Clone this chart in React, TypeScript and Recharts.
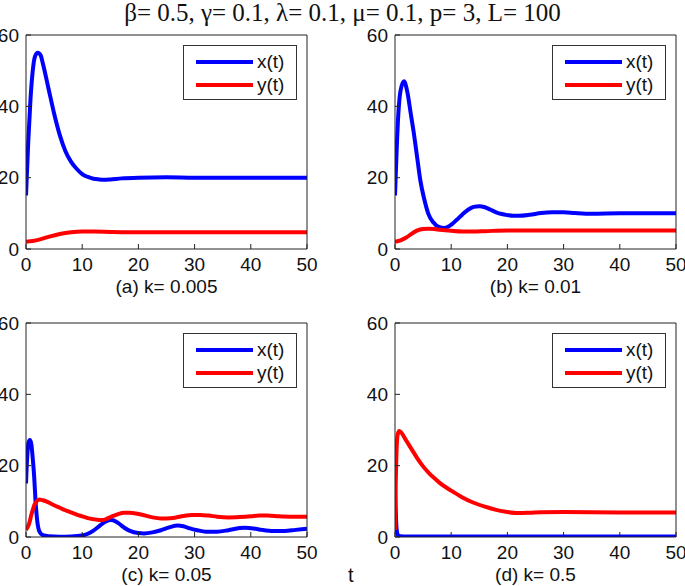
import { LineChart, Line, XAxis, YAxis } from 'recharts'

/* axis ticks shared by all four panels */
const T_TICKS = [0, 10, 20, 30, 40, 50]
const V_TICKS = [0, 20, 40, 60]

const TITLE = 'β= 0.5, γ= 0.1, λ= 0.1, μ= 0.1, p= 3, L= 100'

/* (a) k = 0.005 */
const aXt = [0, 0.4, 0.8, 1.2, 1.6, 2.1, 2.6, 3, 4, 5, 6, 7, 8, 9, 10, 11, 12, 13, 14, 15, 17, 20, 25, 30, 40, 50]
const aXv = [15, 30, 42, 50, 54, 55, 54.3, 52, 45, 38, 32, 27.5, 24.5, 22.5, 21, 20.2, 19.7, 19.5, 19.4, 19.5, 19.8, 20, 20.1, 20, 20, 20]
const aYt = [0, 2, 4, 6, 8, 10, 12, 15, 20, 30, 40, 50]
const aYv = [2, 2.5, 3.4, 4.2, 4.7, 4.9, 4.9, 4.8, 4.7, 4.7, 4.7, 4.7]

/* (b) k = 0.01 */
const bXt = [0, 0.3, 0.6, 1, 1.6, 2.2, 2.8, 3.3, 4, 4.5, 5.2, 5.9, 6.8, 7.8, 8.8, 10, 11, 12, 13, 14, 15, 16, 17, 18, 19, 20, 21, 22, 24, 26, 28, 30, 32, 35, 40, 45, 50]
const bXv = [15, 28, 38, 44.5, 47, 44, 38, 33, 25, 19.3, 14, 10, 7.5, 6.2, 5.9, 6.8, 8.2, 9.7, 11, 11.8, 12, 11.7, 11, 10.3, 9.8, 9.5, 9.3, 9.3, 9.6, 10.1, 10.3, 10.3, 10.1, 9.9, 10, 10, 10]
const bYt = [0, 1, 2, 3, 4, 5, 6, 7, 8, 10, 12, 14, 16, 20, 25, 30, 50]
const bYv = [2, 2.4, 3.2, 4.3, 5.2, 5.6, 5.7, 5.6, 5.4, 5.1, 4.9, 4.9, 5, 5.2, 5.2, 5.2, 5.2]

/* (c) k = 0.05 */
const cXt = [0, 0.2, 0.45, 0.7, 0.95, 1.2, 1.45, 1.7, 2, 2.4, 3, 4, 6, 8, 10, 11, 12, 13, 14, 15, 15.5, 16.5, 17.5, 18.5, 20, 21, 22.5, 24, 25.5, 27, 28, 29, 30.5, 32, 34, 36, 38, 39, 40.5, 42, 44, 46, 48, 50]
const cXv = [15, 22, 26.5, 27.2, 26, 22, 17, 10, 4.5, 1.5, 0.5, 0.2, 0.1, 0.15, 0.4, 0.9, 1.8, 3, 4.2, 4.8, 4.7, 3.8, 2.6, 1.7, 1.1, 1, 1.3, 1.9, 2.7, 3.2, 3, 2.5, 1.9, 1.5, 1.5, 1.9, 2.5, 2.6, 2.4, 2, 1.7, 1.7, 2, 2.3]
const cYt = [0, 0.5, 1, 1.5, 2, 2.4, 3, 4, 5, 6, 7, 8, 9, 10, 11, 12, 13, 13.8, 14.5, 15.5, 16.5, 17.5, 18.5, 19.5, 21, 22.5, 24, 25, 26.5, 28, 29.5, 31, 32.5, 34, 36, 38, 40, 41.5, 43, 45, 47, 50]
const cYv = [2, 3.5, 6.5, 9, 10.2, 10.5, 10.3, 9.7, 8.9, 8.2, 7.5, 6.9, 6.3, 5.8, 5.3, 5, 4.8, 4.8, 5.2, 5.9, 6.5, 6.8, 6.8, 6.6, 6.1, 5.5, 5.2, 5.2, 5.4, 5.9, 6.2, 6.2, 6, 5.7, 5.5, 5.6, 5.8, 6, 6, 5.8, 5.7, 5.7]

/* (d) k = 0.5 */
const dXt = [0, 0.12, 0.25, 0.45, 0.7, 1, 2, 5, 10, 20, 30, 40, 50]
const dXv = [15, 8, 3, 0.8, 0.3, 0.2, 0.15, 0.15, 0.15, 0.15, 0.15, 0.15, 0.15]
const dYt = [0, 0.1, 0.25, 0.45, 0.75, 2, 3, 4, 5, 6, 7, 8, 10, 12, 14, 16, 18, 20, 22, 24, 26, 30, 40, 50]
const dYv = [2, 13, 23, 28.5, 29.7, 27, 24.5, 22, 19.8, 18, 16.5, 15.1, 13, 11.1, 9.6, 8.5, 7.6, 7, 6.7, 6.8, 6.95, 7, 6.9, 6.9]

const zip = (t: number[], v: number[]) => t.map((tt, i) => ({ t: tt, v: v[i] }))

const PLOT_W = 281
const PLOT_H = 214
const Y_AXIS_W = 40
const X_AXIS_H = 50
const M_TOP = 15
const M_RIGHT = 12

const panels = [
  { caption: '(a) k= 0.005', left: 26, top: 35, x: zip(aXt, aXv), y: zip(aYt, aYv) },
  { caption: '(b) k= 0.01', left: 395, top: 35, x: zip(bXt, bXv), y: zip(bYt, bYv) },
  { caption: '(c) k= 0.05', left: 26, top: 323, x: zip(cXt, cXv), y: zip(cYt, cYv) },
  { caption: '(d) k= 0.5', left: 395, top: 323, x: zip(dXt, dXv), y: zip(dYt, dYv) },
]

const FONT = 'Arial, "Liberation Sans", Helvetica, sans-serif'
const AXIS = '#222'
const tickStyle = { fontSize: 19, fill: '#111', fontFamily: FONT }

function LegendBox({ left, top }: { left: number; top: number }) {
  const rows = [
    { label: 'x(t)', color: '#0000ff' },
    { label: 'y(t)', color: '#ff0000' },
  ]
  return (
    <div
      style={{
        position: 'absolute', left, top, width: 112, height: 53,
        border: '1px solid #333', background: '#fff', fontFamily: FONT, fontSize: 19,
      }}
    >
      {rows.map((r, i) => (
        <div key={r.label} style={{ position: 'absolute', left: 0, top: 4 + i * 23, height: 23, display: 'flex', alignItems: 'center' }}>
          <span style={{ display: 'inline-block', marginLeft: 12, width: 57, height: 4, background: r.color }} />
          <span style={{ marginLeft: 4, color: '#111', lineHeight: '23px' }}>{r.label}</span>
        </div>
      ))}
    </div>
  )
}

// x(t) sits on the bottom/left axes, y(t) on the top/right ones (same domains),
// so all four sides of the box get drawn with inward ticks.
// Recharts skips an axis of zero size, hence the 1px top/right axes.
function Panel({ p }: { p: (typeof panels)[number] }) {
  const w = Y_AXIS_W + PLOT_W + M_RIGHT
  const h = M_TOP + PLOT_H + X_AXIS_H
  return (
    <>
      <div style={{ position: 'absolute', left: p.left - Y_AXIS_W, top: p.top - M_TOP }}>
        <LineChart width={w} height={h} margin={{ top: M_TOP - 1, right: M_RIGHT - 1, left: 0, bottom: 0 }}>
          <XAxis
            dataKey="t" type="number" domain={[0, 50]} ticks={T_TICKS} allowDataOverflow
            height={X_AXIS_H} stroke={AXIS} tickSize={-5} tickMargin={14} tick={tickStyle}
            label={{ value: p.caption, position: 'insideBottom', offset: 6, fontSize: 19, fill: '#111', fontFamily: FONT }}
          />
          <XAxis
            xAxisId="top" orientation="top" dataKey="t" type="number" domain={[0, 50]} ticks={T_TICKS} allowDataOverflow
            height={1} stroke={AXIS} tickSize={-5} tick={false}
          />
          <YAxis
            type="number" domain={[0, 60]} ticks={V_TICKS} allowDataOverflow
            width={Y_AXIS_W} stroke={AXIS} tickSize={-5} tickMargin={12} tick={tickStyle}
          />
          <YAxis
            yAxisId="right" orientation="right" type="number" domain={[0, 60]} ticks={V_TICKS} allowDataOverflow
            width={1} stroke={AXIS} tickSize={-5} tick={false}
          />
          <Line data={p.x} dataKey="v" type="monotone" stroke="#0000ff" strokeWidth={4} dot={false} isAnimationActive={false} />
          <Line
            data={p.y} dataKey="v" xAxisId="top" yAxisId="right" type="monotone"
            stroke="#ff0000" strokeWidth={4} dot={false} isAnimationActive={false}
          />
        </LineChart>
      </div>
      <LegendBox left={p.left + PLOT_W - 10 - 114} top={p.top + 10} />
    </>
  )
}

export default function App() {
  return (
    <div style={{ position: 'absolute', left: 0, top: 0, width: 685, height: 586, background: '#fff', overflow: 'hidden' }}>
      <div
        style={{
          position: 'absolute', left: 0, top: 0, width: 685, textAlign: 'center',
          fontFamily: '"Liberation Serif", "Times New Roman", serif', fontSize: 25, lineHeight: '25px', color: '#111',
        }}
      >
        {TITLE}
      </div>
      {panels.map(p => (
        <Panel key={p.caption} p={p} />
      ))}
      <div style={{ position: 'absolute', left: 348, top: 565, fontFamily: FONT, fontSize: 20, lineHeight: '20px', color: '#111' }}>t</div>
    </div>
  )
}
